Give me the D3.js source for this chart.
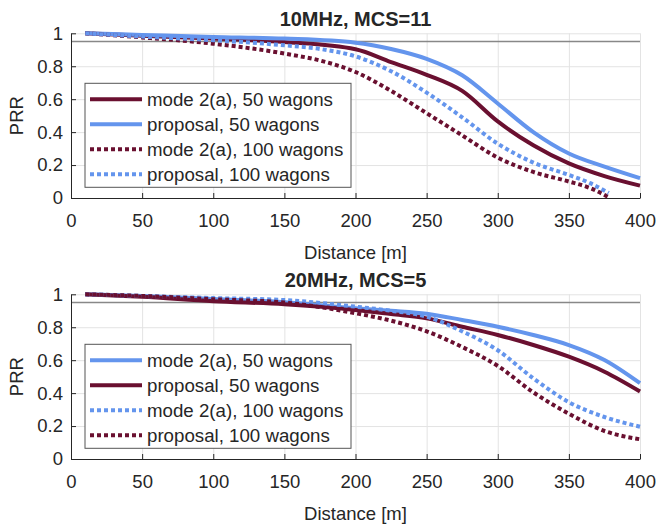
<!DOCTYPE html>
<html>
<head>
<meta charset="utf-8">
<script src="https://cdn.jsdelivr.net/npm/d3@7"></script>
<style>
  body { margin: 0; background: #fff; }
  svg text { font-family: 'Liberation Sans', Arial, Helvetica, sans-serif; fill: #262626; }
</style>
</head>
<body>
<div id="chart"></div>
<script>
// ticks
var xTicks = [0, 50, 100, 150, 200, 250, 300, 350, 400]
var yTicks = [0, 0.2, 0.4, 0.6, 0.8, 1]

// 10MHz, MCS=11
var dist10 = [10, 50, 100, 150, 200, 225, 250, 275, 300, 325, 350, 375, 400]
var mode2a50_10 = [1.0, 0.985, 0.968, 0.947, 0.903, 0.825, 0.748, 0.65, 0.465, 0.32, 0.21, 0.133, 0.075]
var proposal50_10 = [1.0, 0.99, 0.978, 0.968, 0.943, 0.905, 0.845, 0.745, 0.574, 0.40, 0.27, 0.19, 0.12]
var dist10b = [10, 50, 100, 150, 175, 200, 225, 250, 275, 300, 325, 350, 365, 378]
var mode2a100_10 = [1.0, 0.975, 0.937, 0.877, 0.835, 0.765, 0.65, 0.515, 0.38, 0.245, 0.158, 0.10, 0.06, 0.005]
var proposal100_10 = [1.0, 0.98, 0.958, 0.927, 0.905, 0.86, 0.77, 0.64, 0.49, 0.33, 0.215, 0.14, 0.09, 0.03]

// 20MHz, MCS=5
var dist20 = [10, 50, 100, 150, 200, 225, 250, 275, 300, 325, 350, 375, 400]
var mode2a50_20 = [1.0, 0.99, 0.972, 0.952, 0.915, 0.90, 0.882, 0.844, 0.803, 0.753, 0.692, 0.601, 0.46]
var proposal50_20 = [1.0, 0.985, 0.958, 0.94, 0.905, 0.88, 0.854, 0.803, 0.753, 0.692, 0.621, 0.53, 0.41]
var mode2a100_20 = [1.0, 0.99, 0.977, 0.965, 0.925, 0.90, 0.864, 0.775, 0.66, 0.49, 0.345, 0.255, 0.196]
var proposal100_20 = [1.0, 0.99, 0.97, 0.95, 0.885, 0.84, 0.775, 0.68, 0.565, 0.405, 0.275, 0.17, 0.12]

var threshold = 0.95

var maroon = '#6a1030'
var blue = '#6495ed'

var width = 658, height = 526
var svg = d3.select('#chart').append('svg')
    .attr('width', width)
    .attr('height', height)

var panels = [
  {
    title: '10MHz, MCS=11', top: 33.3, bottom: 198,
    series: [
      { name: 'mode 2(a), 50 wagons', x: dist10, y: mode2a50_10, color: maroon, dotted: false },
      { name: 'proposal, 50 wagons', x: dist10, y: proposal50_10, color: blue, dotted: false },
      { name: 'mode 2(a), 100 wagons', x: dist10b, y: mode2a100_10, color: maroon, dotted: true },
      { name: 'proposal, 100 wagons', x: dist10b, y: proposal100_10, color: blue, dotted: true }
    ]
  },
  {
    title: '20MHz, MCS=5', top: 294.3, bottom: 459,
    series: [
      { name: 'mode 2(a), 50 wagons', x: dist20, y: mode2a50_20, color: blue, dotted: false },
      { name: 'proposal, 50 wagons', x: dist20, y: proposal50_20, color: maroon, dotted: false },
      { name: 'mode 2(a), 100 wagons', x: dist20, y: mode2a100_20, color: blue, dotted: true },
      { name: 'proposal, 100 wagons', x: dist20, y: proposal100_20, color: maroon, dotted: true }
    ]
  }
]

var left = 71, right = 640
var x = d3.scaleLinear().domain([0, 400]).range([left, right])

panels.forEach(function(p) {
  var y = d3.scaleLinear().domain([0, 1]).range([p.bottom, p.top])
  var g = svg.append('g')

  // grid
  g.append('g')
      .attr('transform', 'translate(0,' + p.bottom + ')')
      .call(d3.axisBottom(x).tickValues(xTicks).tickSize(-(p.bottom - p.top)).tickFormat(''))
      .call(function(s) {
        s.select('.domain').remove()
        s.selectAll('line').attr('stroke', '#e3e3e3').attr('stroke-width', 1)
      })
  g.append('g')
      .attr('transform', 'translate(' + left + ',0)')
      .call(d3.axisLeft(y).tickValues(yTicks).tickSize(-(right - left)).tickFormat(''))
      .call(function(s) {
        s.select('.domain').remove()
        s.selectAll('line').attr('stroke', '#e3e3e3').attr('stroke-width', 1)
      })

  // threshold line
  g.append('line')
      .attr('x1', left).attr('x2', right)
      .attr('y1', y(threshold)).attr('y2', y(threshold))
      .attr('stroke', '#888').attr('stroke-width', 1.5)

  // axes
  var xAxis = g.append('g')
      .attr('transform', 'translate(0,' + p.bottom + ')')
      .call(d3.axisBottom(x).tickValues(xTicks).tickSizeInner(-5).tickSizeOuter(0).tickPadding(16))
  var yAxis = g.append('g')
      .attr('transform', 'translate(' + left + ',0)')
      .call(d3.axisLeft(y).tickValues(yTicks).tickSizeInner(-5).tickSizeOuter(0).tickPadding(8)
        .tickFormat(function(d) { return d3.format('~g')(d) }))
  ;[xAxis, yAxis].forEach(function(a) {
    a.select('.domain').attr('stroke', '#262626').attr('stroke-width', 1)
    a.selectAll('line').attr('stroke', '#262626')
    a.selectAll('text').style('font-size', '18.5px').attr('fill', '#262626')
  })

  // curves
  var line = d3.line()
      .x(function(d) { return x(d[0]) })
      .y(function(d) { return y(d[1]) })
      .curve(d3.curveMonotoneX)

  p.series.forEach(function(s) {
    var pts = s.x.map(function(v, i) { return [v, s.y[i]] })
    g.append('path')
        .attr('d', line(pts))
        .attr('fill', 'none')
        .attr('stroke', s.color)
        .attr('stroke-width', 4)
        .attr('stroke-dasharray', s.dotted ? '4,3' : null)
  })

  // labels
  g.append('text')
      .attr('x', (left + right) / 2).attr('y', p.top - 7)
      .attr('text-anchor', 'middle')
      .style('font-size', '20px').style('font-weight', 'bold')
      .attr('fill', '#000')
      .text(p.title)
  g.append('text')
      .attr('x', (left + right) / 2).attr('y', p.bottom + 61)
      .attr('text-anchor', 'middle')
      .style('font-size', '18.5px')
      .text('Distance [m]')
  g.append('text')
      .attr('transform', 'translate(' + 23 + ',' + (p.top + p.bottom) / 2 + ') rotate(-90)')
      .attr('text-anchor', 'middle')
      .style('font-size', '18.5px')
      .text('PRR')

  // legend
  var lx = 85, ly = p.top + 50, lw = 266, lh = 104
  var lg = g.append('g')
  lg.append('rect')
      .attr('x', lx).attr('y', ly).attr('width', lw).attr('height', lh)
      .attr('fill', '#fff').attr('stroke', '#555').attr('stroke-width', 1)
  p.series.forEach(function(s, i) {
    var cy = ly + 16 + i * 25
    lg.append('line')
        .attr('x1', lx + 5).attr('x2', lx + 57)
        .attr('y1', cy).attr('y2', cy)
        .attr('stroke', s.color).attr('stroke-width', 4)
        .attr('stroke-dasharray', s.dotted ? '4,3' : null)
    lg.append('text')
        .attr('x', lx + 62).attr('y', cy + 7)
        .style('font-size', '18.7px')
        .text(s.name)
  })
})
</script>
</body>
</html>
